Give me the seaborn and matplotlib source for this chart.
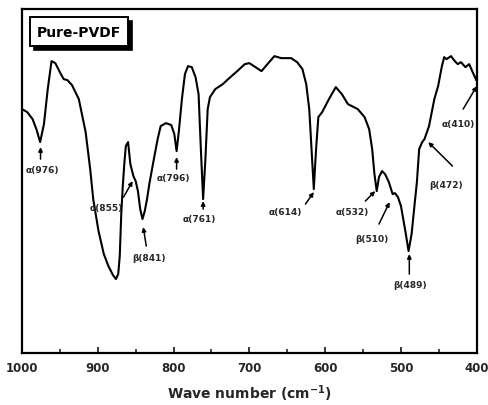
import seaborn as sns
import matplotlib.pyplot as plt
from matplotlib.patches import Rectangle
import pandas as pd

# spectrum (transmittance in arbitrary units)
wavenumber = [1000, 993, 986, 981, 976, 971, 966, 961, 956, 950, 945, 940, 934, 925,
              916, 910, 906, 899, 892, 886, 880, 876, 873, 871, 869, 867, 865, 863,
              860, 857, 853, 850, 847, 844, 841, 838, 835, 832, 826, 821, 817, 810,
              803, 799, 796, 793, 789, 785, 781, 776, 771, 767, 764, 761, 758, 755,
              752, 745, 735, 728, 716, 706, 700, 692, 684, 675, 667, 658, 645, 637,
              630, 625, 621, 618, 615, 612, 609, 604, 595, 586, 578, 570, 557, 548,
              542, 538, 535, 532, 529, 525, 521, 516, 511, 508, 504, 500, 494, 490,
              486, 482, 479, 476, 472, 469, 463, 456, 451, 446, 443, 440, 434, 429,
              425, 421, 415, 410, 406, 400]
transmittance = [244, 241, 234, 224, 211, 229, 264, 292, 290, 281, 274, 273, 268, 254,
                 221, 184, 154, 122, 99, 87, 78, 74, 79, 97, 139, 167, 189, 207,
                 211, 189, 177, 172, 162, 144, 134, 142, 154, 169, 194, 214, 227, 230,
                 228, 219, 202, 222, 254, 279, 287, 286, 276, 259, 204, 154, 194, 244,
                 256, 264, 269, 274, 282, 289, 290, 286, 282, 290, 297, 295, 295, 291,
                 284, 269, 244, 204, 164, 204, 236, 241, 254, 266, 259, 249, 244, 236,
                 224, 204, 179, 162, 176, 182, 179, 171, 159, 160, 156, 147, 121, 102,
                 119, 149, 171, 204, 211, 214, 227, 254, 267, 287, 296, 294, 297, 292,
                 289, 291, 286, 289, 282, 272]

# band labels
band_labels = ["α(976)", "α(855)", "β(841)", "α(796)", "α(761)", "α(614)",
               "α(532)", "β(510)", "β(489)", "β(472)", "α(410)"]

# where each label sits, and arrow tail/head (wavenumber, transmittance)
label_pos = [(973, 184), (889, 146), (832, 96), (800, 176), (766, 135), (652, 142),
             (564, 142), (538, 115), (488, 69), (441, 169), (425, 230)]
arrow_tail = [(975.5, 194), (866, 156), (836, 107), (796, 184), (761, 144), (626, 149),
              (547, 152), (529, 129), (489, 79), (432, 187), (418, 244)]
arrow_head = [(975.5, 206), (854, 172), (840, 126), (796, 196), (761, 152), (615, 161),
              (534, 162), (515, 151), (489, 99), (464, 211), (400, 267)]

df = pd.DataFrame({"wn": wavenumber, "T": transmittance})

sns.set_theme(style="ticks")
plt.rcParams["font.family"] = ["DejaVu Sans"]
plt.rcParams["font.weight"] = "bold"
plt.rcParams["mathtext.fontset"] = "dejavusans"
plt.rcParams["mathtext.default"] = "bf"

fig = plt.figure(figsize=(4.88, 4.06), dpi=100)
ax = fig.add_axes([0.045, 0.128, 0.932, 0.847])

sns.lineplot(data=df, x="wn", y="T", ax=ax, color="black", lw=1.5, sort=False)

ax.set_xlim(1000, 400)
ax.set_ylim(0, 344)
ax.set_xticks([1000, 900, 800, 700, 600, 500, 400])
ax.set_xticks([950, 850, 750, 650, 550, 450], minor=True)
ax.set_yticks([])
ax.tick_params(axis="x", direction="in", length=4, width=1.3, labelsize=8.5, pad=6)
ax.tick_params(axis="x", which="minor", direction="in", length=3, width=1.2)
for lab in ax.get_xticklabels():
    lab.set_fontweight("bold")
for sp in ax.spines.values():
    sp.set_linewidth(1.6)
    sp.set_color("black")

ax.set_xlabel(r"Wave number (cm$^{\mathbf{-1}}$)", fontsize=10, fontweight="bold", labelpad=6)
ax.set_ylabel("")

for txt, pos, tail, head in zip(band_labels, label_pos, arrow_tail, arrow_head):
    ax.text(pos[0], pos[1], txt, fontsize=6.5, fontweight="bold", ha="center", va="center")
    ax.annotate("", xy=head, xytext=tail,
                arrowprops=dict(arrowstyle="-|>", color="black", lw=1.1,
                                mutation_scale=6, shrinkA=0, shrinkB=0))

# title box with drop shadow
ax.add_patch(Rectangle((0.027, 0.880), 0.215, 0.085, transform=ax.transAxes,
                       fc="black", ec="black", lw=1.2, zorder=4))
ax.add_patch(Rectangle((0.018, 0.892), 0.215, 0.085, transform=ax.transAxes,
                       fc="white", ec="black", lw=1.4, zorder=5))
ax.text(0.1255, 0.934, "Pure-PVDF", transform=ax.transAxes, fontsize=10,
        fontweight="bold", ha="center", va="center", color="black", zorder=6)

fig.savefig("out.png", dpi=100)
